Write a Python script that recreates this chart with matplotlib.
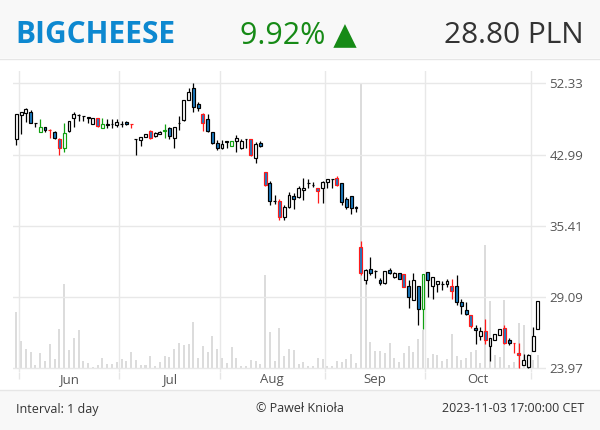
import numpy as np
import pandas as pd
import matplotlib
matplotlib.use('Agg')
import matplotlib.pyplot as plt
from matplotlib.patches import Rectangle
from matplotlib.lines import Line2D

plt.rcParams['font.family'] = ['Open Sans', 'DejaVu Sans']

# Trading days (Warsaw exchange, holidays removed)
dates = pd.bdate_range('2023-05-31', '2023-11-03')
holidays = pd.to_datetime(['2023-06-08', '2023-08-15', '2023-11-01'])
dates = dates[~dates.isin(holidays)]

opens = [44.86, 47.90, 48.16, 48.30, 46.90, 45.80, 46.35, 46.00, 45.80, 44.86,
         43.76, 45.92, 47.50, 48.00, 47.77, 47.52, 46.81, 47.58, 46.30, 46.70,
         46.76, 46.65, 46.78, 47.07, 46.75, 44.86, 44.77, 45.08, 45.90, 45.30,
         45.50, 45.85, 46.22, 44.98, 46.95, 47.29, 49.95, 51.60, 49.40, 48.07,
         47.40, 45.80, 44.40, 43.76, 44.50, 44.07, 44.64, 43.76, 44.86, 44.86,
         42.60, 44.40, 40.97, 39.78, 37.90, 37.92, 36.28, 37.26, 38.37, 38.26,
         39.07, 39.78, 39.60, 39.20, 39.20, 39.90, 40.25, 40.35, 39.75, 38.05,
         38.37, 37.20, 33.40, 30.50, 31.40, 31.30, 30.50, 30.22, 31.35, 30.72,
         31.06, 31.00, 30.01, 28.90, 30.03, 28.15, 31.16, 30.00, 30.20, 30.14,
         30.18, 30.01, 30.01, 28.69, 28.10, 27.72, 26.72, 26.15, 26.54, 25.48,
         25.87, 26.27, 26.72, 25.85, 25.68, 24.95, 24.17, 24.05, 25.10, 26.70]
highs = [48.03, 48.33, 48.83, 48.64, 46.95, 47.38, 46.43, 46.10, 45.85, 44.98,
         46.87, 47.20, 48.38, 48.05, 47.80, 47.65, 47.58, 47.60, 47.58, 47.38,
         47.38, 47.38, 47.16, 47.16, 46.80, 44.90, 45.10, 45.50, 46.00, 45.72,
         45.85, 46.73, 46.35, 46.35, 47.86, 50.00, 51.60, 52.33, 49.70, 48.25,
         48.03, 45.80, 44.77, 44.73, 44.60, 44.70, 45.38, 44.86, 44.90, 44.90,
         44.57, 44.70, 41.00, 39.97, 38.50, 38.05, 37.46, 38.86, 38.70, 39.45,
         40.30, 40.20, 39.90, 39.30, 39.97, 40.20, 40.28, 40.60, 39.75, 38.30,
         38.40, 37.40, 33.95, 31.40, 32.45, 31.32, 30.70, 31.30, 31.55, 31.15,
         31.10, 31.05, 30.50, 31.06, 30.03, 31.00, 31.20, 30.75, 30.45, 30.45,
         30.60, 30.60, 30.93, 28.93, 28.69, 27.75, 26.97, 26.80, 27.40, 26.00,
         26.30, 26.70, 26.97, 26.00, 25.70, 25.68, 24.88, 24.90, 26.80, 28.80]
lows = [44.16, 45.50, 47.07, 46.94, 46.43, 45.80, 45.80, 44.98, 44.90, 42.96,
        43.33, 45.72, 46.35, 47.20, 47.20, 46.87, 46.81, 46.43, 46.22, 46.30,
        46.22, 46.43, 46.43, 46.65, 46.22, 42.95, 44.04, 45.08, 44.90, 45.14,
        45.50, 44.98, 44.90, 43.76, 46.00, 47.20, 49.95, 48.38, 48.50, 45.92,
        45.72, 44.25, 43.52, 43.68, 43.83, 44.00, 43.33, 43.70, 43.83, 42.80,
        42.00, 43.95, 39.50, 37.46, 37.60, 35.99, 35.99, 37.16, 37.10, 38.22,
        38.00, 39.30, 39.35, 37.70, 37.70, 39.20, 39.30, 39.50, 37.50, 37.06,
        36.60, 36.80, 30.93, 30.14, 30.93, 30.68, 30.10, 30.14, 31.00, 30.70,
        30.55, 29.90, 28.25, 28.90, 27.00, 26.70, 29.10, 28.93, 29.55, 29.70,
        29.93, 28.93, 28.49, 27.77, 27.72, 26.72, 25.57, 25.88, 25.60, 24.45,
        25.87, 26.27, 25.57, 25.50, 25.00, 23.97, 24.17, 24.00, 25.10, 26.70]
closes = [48.03, 48.30, 48.70, 46.94, 46.90, 46.35, 45.98, 46.00, 44.98, 43.76,
          45.60, 47.20, 48.03, 48.00, 47.77, 47.65, 47.58, 46.55, 46.73, 46.75,
          46.80, 47.07, 46.78, 46.73, 46.75, 44.86, 45.10, 45.47, 45.00, 45.60,
          45.80, 45.95, 45.30, 46.35, 46.95, 49.95, 51.00, 48.96, 48.86, 46.87,
          45.92, 44.40, 43.76, 44.28, 44.60, 44.64, 44.98, 44.70, 44.86, 42.96,
          44.28, 44.05, 39.57, 37.90, 37.92, 36.28, 37.26, 38.50, 38.05, 39.30,
          39.30, 39.80, 39.62, 38.95, 39.90, 40.20, 40.25, 39.60, 37.76, 37.24,
          37.20, 37.22, 31.10, 31.35, 31.08, 31.30, 30.22, 31.25, 31.06, 31.12,
          30.60, 29.95, 29.10, 30.50, 28.15, 31.00, 30.50, 30.75, 30.40, 30.16,
          30.42, 29.62, 28.69, 28.41, 27.77, 26.92, 26.57, 26.54, 25.90, 26.00,
          26.30, 26.70, 25.66, 25.70, 25.68, 24.82, 24.50, 24.86, 26.16, 28.80]
# candles drawn with a red / green outline
red_days = [7, 9, 17, 24, 28, 39, 49, 52, 55, 63, 67, 72, 81, 91, 95, 98, 102, 104, 105]
green_days = [5, 10, 18, 31, 45, 85]
volume = [56, 27, 19, 16, 3, 15, 7, 24, 9, 39, 84, 18, 30, 38, 7, 5, 1.5, 3, 10, 4,
          4, 6, 9, 7, 16, 8, 3, 3, 12, 2, 6, 12, 11, 19, 25, 23, 24, 46, 10, 22,
          16, 32, 19, 10, 5, 21, 10, 2, 2, 8, 7, 4, 93, 36, 7, 40, 12, 19, 18, 4,
          6, 2, 2, 10, 9, 2, 2, 7, 6, 9, 14, 5, 285, 86, 26, 17, 17, 15, 25, 10,
          6, 15, 22, 16, 29, 38, 10, 14, 13, 7, 9, 34, 12, 8, 10, 16, 18, 5, 123, 67,
          13, 11, 68, 3, 6, 45, 43, 9, 8, 13]
volume = [v * 1000 for v in volume]

price_ticks = [23.97, 29.09, 35.41, 42.99, 52.33]

o = np.array(opens)
h = np.array(highs)
l = np.array(lows)
c = np.array(closes)
x = np.arange(len(dates))

edges = ['#000000'] * len(x)
for i in red_days:
    edges[i] = '#ff1a1a'
for i in green_days:
    edges[i] = '#10a010'
fills = ['white' if cc >= oo else '#1b7cc2' for oo, cc in zip(o, c)]

W, H = 600, 430
fig = plt.figure(figsize=(6, 4.3), dpi=100)

# header / footer bands
fig.add_artist(Rectangle((0, 1 - 58 / H), 1, 58 / H, transform=fig.transFigure,
                         facecolor='#f8f8f8', edgecolor='none'))
fig.add_artist(Line2D([0, 1], [1 - 58.5 / H] * 2, transform=fig.transFigure,
                      color='#e6e6e6', lw=1))
fig.add_artist(Rectangle((0, 0), 1, 40 / H, transform=fig.transFigure,
                         facecolor='#f8f8f8', edgecolor='none'))
fig.add_artist(Line2D([0, 1], [40.5 / H] * 2, transform=fig.transFigure,
                      color='#e6e6e6', lw=1))

left, right, top, bottom = 13, 546, 71, 372
rect = [left / W, 1 - bottom / H, (right - left) / W, (bottom - top) / H]

# volume behind the candles
axv = fig.add_axes(rect)
vmax = max(volume)
axv.bar(x, volume, width=0.42, color='#dcdcdc', zorder=1)
axv.set_xlim(-0.69, 110.7)
axv.set_ylim(-4 * vmax / 285, (bottom - top - 4) * vmax / 285)
axv.axis('off')

ax = fig.add_axes(rect)
ax.patch.set_alpha(0)
ax.set_yscale('log')
lo, hi = price_ticks[0], price_ticks[-1]
step = np.log(hi / lo) / 285
ax.set_ylim(lo * np.exp(-4 * step), hi * np.exp(12 * step))
ax.set_xlim(-0.69, 110.7)

ax.vlines(x, l, h, colors=edges, lw=0.9, zorder=3)
ax.bar(x, np.abs(c - o), bottom=np.minimum(o, c), width=0.6, color=fills,
       edgecolor=edges, lw=0.85, zorder=4)

# month gridlines and labels
starts = [i for i in range(1, len(dates)) if dates[i].month != dates[i - 1].month]
bounds = [s - 0.5 for s in starts]
ax.set_xticks(bounds)
ax.set_xticklabels([])
mids = [(bounds[k] + bounds[k + 1]) / 2 for k in range(len(bounds) - 1)]
ax.set_xticks(mids, minor=True)
ax.set_xticklabels([dates[s].strftime('%b') for s in starts[:-1]], minor=True)
ax.tick_params(axis='x', which='major', length=5, color='#e6e6e6', width=1)
ax.tick_params(axis='x', which='minor', length=0, pad=1, labelsize=9.5,
               labelcolor='#555555')
for b in bounds:
    ax.axvline(b, color='#e8e8e8', lw=1, zorder=0)

ax.yaxis.tick_right()
ax.set_yticks(price_ticks)
ax.set_yticklabels(['%.2f' % t for t in price_ticks])
ax.yaxis.set_minor_locator(matplotlib.ticker.NullLocator())
ax.tick_params(axis='y', length=0, pad=2.5, labelsize=9.5, labelcolor='#555555')
for t in price_ticks:
    ax.axhline(t, color='#e8e8e8', lw=1, zorder=0)
for s in ax.spines.values():
    s.set_visible(False)

# header texts
fig.text(15 / W, 1 - 43 / H, 'BIGCHEESE', fontsize=21.5, fontweight='bold',
         color='#0d88d0', va='baseline', ha='left')
fig.text(240 / W, 1 - 43 / H, '9.92% \u25b2', fontsize=22, color='#168a16',
         va='baseline', ha='left')
fig.text(584 / W, 1 - 43 / H, '28.80 PLN', fontsize=21.5, color='#333333',
         va='baseline', ha='right')

# footer texts
fig.text(16 / W, 1 - 409 / H, 'Interval: 1 day', fontsize=9, color='#333333',
         va='center', ha='left')
fig.text(300 / W, 1 - 409 / H, '\u00a9 Pawe\u0142 Knio\u0142a', fontsize=9,
         color='#333333', va='center', ha='center')
fig.text(584 / W, 1 - 409 / H, '2023-11-03 17:00:00 CET', fontsize=9,
         color='#333333', va='center', ha='right')

fig.savefig('out.png', dpi=100)
